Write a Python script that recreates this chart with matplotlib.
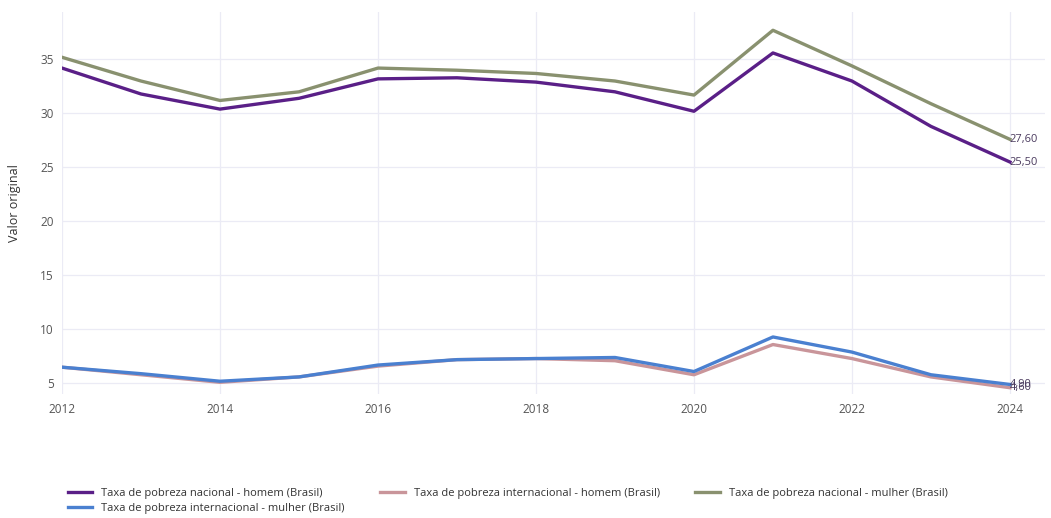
import matplotlib
matplotlib.use("Agg")
import matplotlib.pyplot as plt

years = list(range(2012, 2025))

nacional_homem = [34.2, 31.8, 30.4, 31.4, 33.2, 33.3, 32.9, 32.0, 30.2, 35.6, 33.0, 28.8, 25.5]
internacional_homem = [6.5, 5.8, 5.1, 5.6, 6.6, 7.2, 7.3, 7.1, 5.8, 8.6, 7.3, 5.6, 4.6]
nacional_mulher = [35.2, 33.0, 31.2, 32.0, 34.2, 34.0, 33.7, 33.0, 31.7, 37.7, 34.4, 30.9, 27.6]
internacional_mulher = [6.5, 5.9, 5.2, 5.6, 6.7, 7.2, 7.3, 7.4, 6.1, 9.3, 7.9, 5.8, 4.9]

series = [
    ("Taxa de pobreza nacional - homem (Brasil)", nacional_homem, "#5a1f87"),
    ("Taxa de pobreza internacional - homem (Brasil)", internacional_homem, "#c9959a"),
    ("Taxa de pobreza nacional - mulher (Brasil)", nacional_mulher, "#89916f"),
    ("Taxa de pobreza internacional - mulher (Brasil)", internacional_mulher, "#4a80d0"),
]

plt.rcParams['font.family'] = ['Open Sans', 'DejaVu Sans']

fig = plt.figure(figsize=(10.51, 5.18), dpi=100)
ax = fig.add_axes([0.059, 0.239, 0.935, 0.738])

handles = []
for name, vals, col in series:
    h, = ax.plot(years, vals, color=col, lw=2.4, label=name, solid_joinstyle='round')
    handles.append(h)
    ax.text(years[-1], vals[-1], f"{vals[-1]:.2f}".replace(".", ","), color="#4a3a5e",
            fontsize=8, va='center', ha='left')

ax.set_xlim(2012, 2024.44)
ax.set_ylim(4, 39.4)
ax.set_xticks(range(2012, 2025, 2))
ax.set_yticks([5, 10, 15, 20, 25, 30, 35])
ax.grid(color="#ebebf5", lw=0.9)
ax.set_axisbelow(True)
for s in ax.spines.values():
    s.set_visible(False)
ax.tick_params(length=0, labelsize=8.5, labelcolor="#555555", pad=6)
ax.set_ylabel("Valor original", fontsize=9, color="#333333", labelpad=14)

# legend fills column-wise; reorder so it reads row-wise like the reference
order = [0, 3, 1, 2]
fig.legend([handles[i] for i in order], [series[i][0] for i in order],
           loc='lower left', bbox_to_anchor=(0.055, -0.012), ncol=3, frameon=False,
           fontsize=8, handlelength=2.2, columnspacing=3.2, labelspacing=0.35,
           labelcolor="#333333")

fig.savefig("out.png", dpi=100)
